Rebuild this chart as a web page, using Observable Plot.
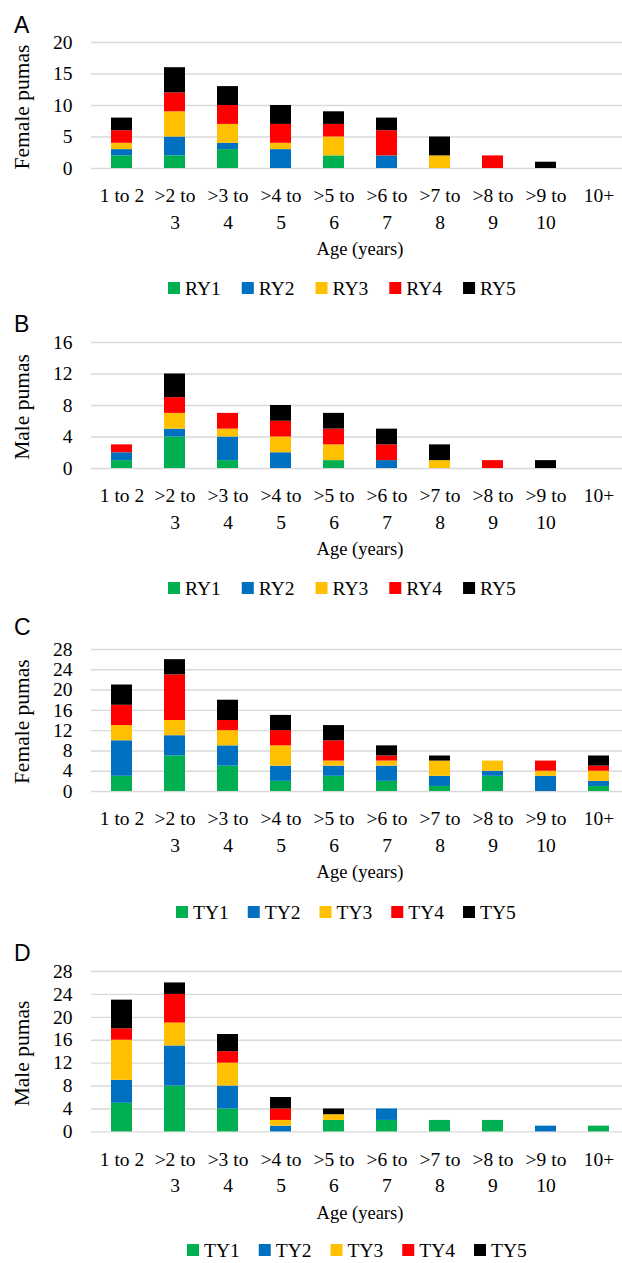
<!DOCTYPE html>
<html>
<head>
<meta charset="utf-8">
<script src="https://cdn.jsdelivr.net/npm/d3@7"></script>
<script src="https://cdn.jsdelivr.net/npm/@observablehq/plot@0.6"></script>
<style>
  body { margin: 0; background: #fff; }
  #root { position: relative; width: 622px; height: 1263px; overflow: hidden; background: #fff; }
  .panel { position: absolute; left: 0; }
  #overlay { position: absolute; left: 0; top: 0; pointer-events: none; }
</style>
</head>
<body>
<div id="root"></div>
<script>
// ---------- data ----------
const ageGroups = ["1 to 2", ">2 to 3", ">3 to 4", ">4 to 5", ">5 to 6", ">6 to 7", ">7 to 8", ">8 to 9", ">9 to 10", "10+"];
const ageTickLabels = ["1 to 2", ">2 to\n3", ">3 to\n4", ">4 to\n5", ">5 to\n6", ">6 to\n7", ">7 to\n8", ">8 to\n9", ">9 to\n10", "10+"];
const rySeries = ["RY1", "RY2", "RY3", "RY4", "RY5"];
const tySeries = ["TY1", "TY2", "TY3", "TY4", "TY5"];
const seriesColors = ["#00B050", "#0070C0", "#FFC000", "#FF0000", "#000000"];

// Panel A: female pumas by resident year
const femaleRY1 = [2, 2, 3, 0, 2, 0, 0, 0, 0, 0];
const femaleRY2 = [1, 3, 1, 3, 0, 2, 0, 0, 0, 0];
const femaleRY3 = [1, 4, 3, 1, 3, 0, 2, 0, 0, 0];
const femaleRY4 = [2, 3, 3, 3, 2, 4, 0, 2, 0, 0];
const femaleRY5 = [2, 4, 3, 3, 2, 2, 3, 0, 1, 0];
// Panel B: male pumas by resident year
const maleRY1 = [1, 4, 1, 0, 1, 0, 0, 0, 0, 0];
const maleRY2 = [1, 1, 3, 2, 0, 1, 0, 0, 0, 0];
const maleRY3 = [0, 2, 1, 2, 2, 0, 1, 0, 0, 0];
const maleRY4 = [1, 2, 2, 2, 2, 2, 0, 1, 0, 0];
const maleRY5 = [0, 3, 0, 2, 2, 2, 2, 0, 1, 0];
// Panel C: female pumas by tracking year
const femaleTY1 = [3, 7, 5, 2, 3, 2, 1, 3, 0, 1];
const femaleTY2 = [7, 4, 4, 3, 2, 3, 2, 1, 3, 1];
const femaleTY3 = [3, 3, 3, 4, 1, 1, 3, 2, 1, 2];
const femaleTY4 = [4, 9, 2, 3, 4, 1, 0, 0, 2, 1];
const femaleTY5 = [4, 3, 4, 3, 3, 2, 1, 0, 0, 2];
// Panel D: male pumas by tracking year
const maleTY1 = [5, 8, 4, 0, 2, 2, 2, 2, 0, 1];
const maleTY2 = [4, 7, 4, 1, 0, 2, 0, 0, 1, 0];
const maleTY3 = [7, 4, 4, 1, 1, 0, 0, 0, 0, 0];
const maleTY4 = [2, 5, 2, 2, 0, 0, 0, 0, 0, 0];
const maleTY5 = [5, 2, 3, 2, 1, 0, 0, 0, 0, 0];

const ticksA = [0, 5, 10, 15, 20];
const ticksB = [0, 4, 8, 12, 16];
const ticksCD = [0, 4, 8, 12, 16, 20, 24, 28];

// ---------- layout ----------
const panels = [
  { letter: "A", yTitle: "Female pumas", series: rySeries, values: [femaleRY1, femaleRY2, femaleRY3, femaleRY4, femaleRY5], ticks: ticksA, yTopPx: 42, yZeroPx: 168, letterY: 33, legendX: 168, legendY: 288, legendGap: 21 },
  { letter: "B", yTitle: "Male pumas", series: rySeries, values: [maleRY1, maleRY2, maleRY3, maleRY4, maleRY5], ticks: ticksB, yTopPx: 342, yZeroPx: 468, letterY: 332, legendX: 168, legendY: 588, legendGap: 21 },
  { letter: "C", yTitle: "Female pumas", series: tySeries, values: [femaleTY1, femaleTY2, femaleTY3, femaleTY4, femaleTY5], ticks: ticksCD, yTopPx: 648.7, yZeroPx: 790.7, letterY: 635, legendX: 176, legendY: 912, legendGap: 19 },
  { letter: "D", yTitle: "Male pumas", series: tySeries, values: [maleTY1, maleTY2, maleTY3, maleTY4, maleTY5], ticks: ticksCD, yTopPx: 971.3, yZeroPx: 1131.7, letterY: 961, legendX: 187, legendY: 1250, legendGap: 19 }
];

const W = 622, H = 1263;
const padTop = 30, padBottom = 70, marginLeft = 91;
const serif = "Liberation Serif";
const tickFont = 19.5;
const tickLabelOf = new Map(ageGroups.map((g, i) => [g, ageTickLabels[i]]));
const root = document.getElementById("root");

for (const p of panels) {
  const rows = [];
  p.series.forEach((s, si) => {
    p.values[si].forEach((v, ai) => { if (v > 0) rows.push({ age: ageGroups[ai], series: s, count: v }); });
  });
  const plotH = p.yZeroPx - p.yTopPx;
  const chart = Plot.plot({
    width: W,
    height: plotH + padTop + padBottom,
    marginTop: padTop,
    marginBottom: padBottom,
    marginLeft: marginLeft,
    marginRight: 0,
    style: { fontFamily: serif, fontSize: tickFont + "px", color: "#000", background: "transparent", overflow: "visible" },
    x: { domain: ageGroups, range: [90.6, 629.6], paddingInner: 0.6, paddingOuter: 0.3, axis: null },
    y: { domain: [0, p.ticks[p.ticks.length - 1]], axis: null },
    color: { domain: p.series, range: seriesColors },
    marks: [
      Plot.ruleY(p.ticks, { stroke: "#d9d9d9", strokeWidth: 1.4 }),
      Plot.barY(rows, Plot.stackY({ x: "age", y: "count", fill: "series", order: p.series })),
      Plot.axisY({ ticks: p.ticks, tickSize: 0, tickPadding: 19, label: null, fontFamily: serif, fontSize: tickFont, fill: "#000" }),
      Plot.axisX({ tickSize: 0, tickPadding: 15, lineHeight: 1.35, label: null, fontFamily: serif, fontSize: tickFont, fill: "#000", tickFormat: d => tickLabelOf.get(d) })
    ]
  });
  const wrap = document.createElement("div");
  wrap.className = "panel";
  wrap.style.top = (p.yTopPx - padTop) + "px";
  wrap.appendChild(chart);
  root.appendChild(wrap);
}

// ---------- overlay text: panel letters, axis titles, legends ----------
const svg = d3.select(root).append("svg")
  .attr("id", "overlay").attr("width", W).attr("height", H)
  .style("font-family", "'Liberation Serif', 'Times New Roman', serif");

for (const p of panels) {
  svg.append("text").text(p.letter)
    .attr("x", 14).attr("y", p.letterY)
    .style("font-family", "'Liberation Sans', Arial, sans-serif").style("font-size", "23px");

  const cy = (p.yTopPx + p.yZeroPx) / 2 + 2;
  svg.append("text").text(p.yTitle)
    .attr("transform", `translate(29,${cy}) rotate(-90)`)
    .attr("text-anchor", "middle").style("font-size", "21.5px");

  svg.append("text").text("Age (years)")
    .attr("x", 360).attr("y", p.yZeroPx + 87)
    .attr("text-anchor", "middle").style("font-size", "18.5px");

  let x = p.legendX;
  p.series.forEach((s, i) => {
    svg.append("rect").attr("x", x).attr("y", p.legendY - 6).attr("width", 12).attr("height", 12).attr("fill", seriesColors[i]);
    const t = svg.append("text").text(s).attr("x", x + 17).attr("y", p.legendY + 7).style("font-size", "19.5px");
    x += 17 + t.node().getComputedTextLength() + p.legendGap;
  });
}
</script>
</body>
</html>
